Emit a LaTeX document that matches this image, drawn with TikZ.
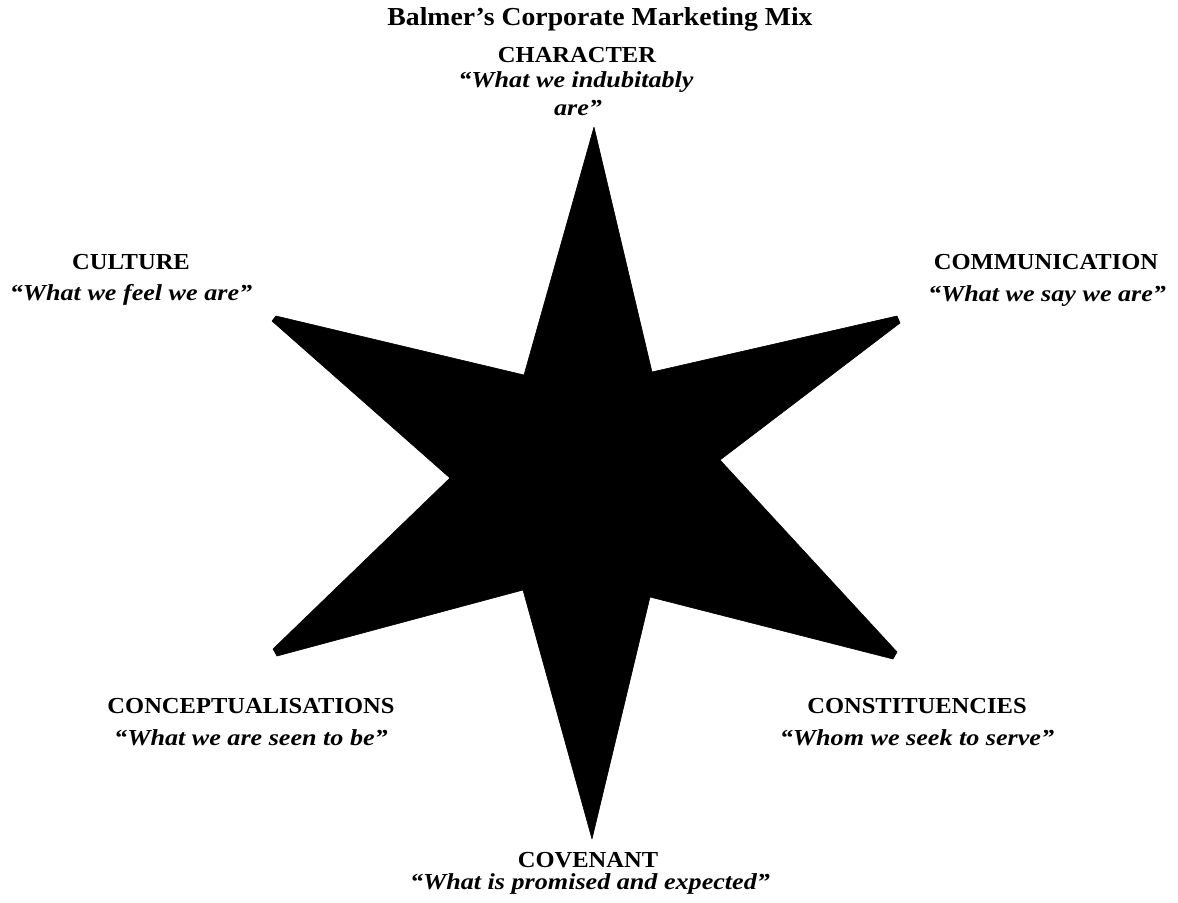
\documentclass[tikz,border=0pt]{standalone}
\usepackage{fontspec}
\setmainfont{Liberation Serif}[BoldFeatures={FakeStretch=1.07}, BoldItalicFeatures={FakeStretch=1.14}]
\begin{document}
\begin{tikzpicture}[x=1bp,y=-1bp,
  lbl/.style={font=\fontsize{23}{27}\selectfont\bfseries, inner sep=0pt, anchor=center},
  quo/.style={font=\fontsize{23}{27}\selectfont\bfseries\itshape, inner sep=0pt, anchor=center},
  star/.style={fill=black, draw=black, line width=0.6pt, line join=bevel}]
\useasboundingbox (0,0) rectangle (1178,903);
% star
\fill[star] (594,127) -- (652,372) -- (897,316) -- (900,323) -- (720,460)
  -- (897,652) -- (893,659)
  -- (650,597) -- (592,839) -- (523,590) -- (277,656) -- (273,649) -- (450,478)
  -- (272,321) -- (276,316) -- (524,375) -- cycle;
% title
\node (title) [font=\fontsize{26}{30}\selectfont\bfseries, inner sep=0pt] at (600,19) {Balmer’s Corporate Marketing Mix};
% labels
\node (char) [lbl] at (577,55) {CHARACTER};
\node (charq1) [quo] at (576,82) {“What we indubitably};
\node (charq2) [quo] at (578,108) {are”};
\node (cult) [lbl] at (131,262) {CULTURE};
\node (cultq) [quo] at (131,295) {“What we feel we are”};
\node (comm) [lbl] at (1046,262) {COMMUNICATION};
\node (commq) [quo] at (1047,296) {“What we say we are”};
\node (conc) [lbl] at (251,706) {CONCEPTUALISATIONS};
\node (concq) [quo] at (251,738) {“What we are seen to be”};
\node (cons) [lbl] at (917,706) {CONSTITUENCIES};
\node (consq) [quo] at (917,738) {“Whom we seek to serve”};
\node (cov) [lbl] at (588,860) {COVENANT};
\node (covq) [quo] at (590,884) {“What is promised and expected”};
\end{tikzpicture}
\end{document}
